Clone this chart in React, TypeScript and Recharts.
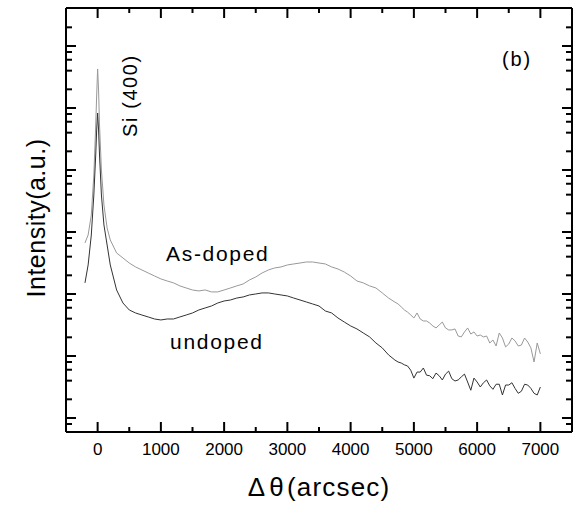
import React from "react";
import { LineChart, Line, XAxis, YAxis, Customized } from "recharts";

// x positions (arcsec)
const X_VALUES = [
  -200, -150, -100, -60, -30, -15, 0, 15, 30, 60, 100, 150, 200,
  300, 400, 500, 600, 700, 800, 900, 1000, 1100, 1200, 1300, 1400, 1500,
  1600, 1700, 1800, 1900, 2000, 2100, 2200, 2300, 2400, 2500, 2600, 2700,
  2800, 2900, 3000, 3100, 3200, 3300, 3400, 3500, 3600, 3700, 3800, 3900,
  4000, 4100, 4200, 4300, 4400, 4500, 4600,
  4700, 4750, 4800, 4850, 4900, 4950, 5000,
  5050, 5100, 5150, 5200, 5250, 5300, 5350, 5400, 5450, 5500,
  5550, 5600, 5650, 5700, 5750, 5800, 5850, 5900, 5950, 6000,
  6050, 6100, 6150, 6200, 6250, 6300, 6350, 6400, 6450, 6500,
  6550, 6600, 6650, 6700, 6750, 6800, 6850, 6900, 6950, 7000,
];

const AS_DOPED = [
  665, 895, 1880, 8300, 53200, 162000, 426000, 195000, 53200, 10000, 2725, 1160, 743,
  459, 381, 316, 273, 244, 218, 195, 175, 162, 151, 135, 125, 116,
  112, 116, 108, 108, 116, 125, 135, 145, 168, 188, 218, 244,
  263, 273, 294, 305, 316, 328, 328, 316, 305, 273, 253, 226,
  195, 162, 151, 135, 125, 104, 86,
  74, 69, 62, 55.2, 51, 46, 41,
  49.4, 39.5, 36.7, 36.7, 34, 30.5, 28.3, 31.6, 35.3, 28.3,
  26.3, 26.3, 27.3, 21, 20.3, 24.4, 28.3, 22.6, 24.4, 21,
  21.8, 20.3, 21, 16.2, 18.1, 14.5, 23.5, 19.5, 14, 15.6,
  19.5, 17.5, 14.5, 15, 19.5, 16.8, 13.5, 8.0, 16.2, 10.8,
];

const UNDOPED = [
  151, 294, 895, 3950, 17460, 44200, 83000, 44200, 17460, 3950, 1297, 617, 294,
  116, 71.6, 55.2, 49.4, 45.8, 42.6, 39.5, 38.1, 39.5, 39.5, 42.6, 45.8, 49.4,
  55.2, 59.5, 64, 71.6, 77.1, 80, 86, 89.5, 96.4, 100, 104, 104,
  100, 96.4, 92.9, 86, 80, 74.3, 69, 64, 53.2, 49.4, 41, 35.3,
  30.5, 27.3, 23.5, 20.3, 16.2, 13.5, 10.4,
  8.6, 8.0, 7.7, 7.2, 6.9, 5.9, 4.4,
  5.5, 5.5, 6.4, 4.9, 4.8, 4.3, 5.3, 4.8, 4.1, 5.1,
  5.7, 4.3, 3.95, 4.1, 4.6, 5.1, 3.8, 2.8, 4.4, 3.8,
  3.16, 3.7, 4.1, 3.3, 2.9, 3.5, 3.5, 2.35, 3.4, 3.4,
  3.7, 3.0, 2.5, 2.7, 3.5, 3.4, 3.0, 2.5, 2.35, 3.16,
];

const X_TICKS = [0, 500, 1000, 1500, 2000, 2500, 3000, 3500, 4000, 4500, 5000, 5500, 6000, 6500, 7000];
const Y_TICKS = [
  0.8, 1, 2, 4, 6, 8, 10, 20, 40, 60, 80, 100, 200, 400, 600, 800,
  1000, 2000, 4000, 6000, 8000, 10000, 20000, 40000, 60000, 80000,
  100000, 200000, 400000, 600000, 800000, 1000000, 2000000,
];

const data = X_VALUES.map((x, i) => ({ x, asDoped: AS_DOPED[i], undoped: UNDOPED[i] }));

const W = 578;
const H = 508;
const LEFT = 66;
const RIGHT = 572;
const TOP = 8;
const BOTTOM = 432;
const FONT = "'Liberation Sans', Arial, Helvetica, sans-serif";

const isDecade = (v: number) => Math.abs(Math.log10(v) - Math.round(Math.log10(v))) < 1e-9;

const BottomTick = (props: any) => {
  const { x, payload } = props;
  const major = payload.value % 1000 === 0;
  return (
    <g>
      <line x1={x} x2={x} y1={BOTTOM} y2={BOTTOM - (major ? 10 : 5)} stroke="#000" strokeWidth={2} />
      {major && (
        <text x={x} y={455} textAnchor="middle" fontSize={17} fontFamily={FONT} fill="#000">
          {payload.value}
        </text>
      )}
    </g>
  );
};

const TopTick = (props: any) => {
  const { x, payload } = props;
  const major = payload.value % 1000 === 0;
  return <line x1={x} x2={x} y1={TOP} y2={TOP + (major ? 10 : 5)} stroke="#000" strokeWidth={2} />;
};

const LeftTick = (props: any) => {
  const { y, payload } = props;
  const major = isDecade(payload.value);
  return <line x1={LEFT} x2={LEFT + (major ? 10 : 6)} y1={y} y2={y} stroke="#000" strokeWidth={2} />;
};

const RightTick = (props: any) => {
  const { y, payload } = props;
  const major = isDecade(payload.value);
  return <line x1={RIGHT} x2={RIGHT - (major ? 10 : 6)} y1={y} y2={y} stroke="#000" strokeWidth={2} />;
};

const Annotations = () => (
  <g fontFamily={FONT} fill="#000">
    <text x={166} y={261} fontSize={21} letterSpacing={1.7}>As-doped</text>
    <text x={170} y={349} fontSize={21} letterSpacing={1.7}>undoped</text>
    <text x={502} y={66} fontSize={20} letterSpacing={1.8}>(b)</text>
    <text x={137} y={137} fontSize={20} letterSpacing={1.6} transform="rotate(-90 137 137)">Si (400)</text>
    <text x={45} y={218} fontSize={25} letterSpacing={0.5} textAnchor="middle" transform="rotate(-90 45 218)">
      Intensity(a.u.)
    </text>
    <text x={319} y={496} fontSize={26} textAnchor="middle" letterSpacing={1.2}>
      <tspan>Δ</tspan>
      <tspan dx={3}>θ</tspan>
      <tspan dx={2}>(arcsec)</tspan>
    </text>
  </g>
);

export default function App() {
  return (
    <div style={{ width: W, height: H, background: "#fff" }}>
      <style>{"body{margin:0}"}</style>
      <LineChart
        width={W}
        height={H}
        data={data}
        margin={{ top: TOP - 1, right: W - RIGHT - 1, bottom: H - BOTTOM - 1, left: LEFT - 1 }}
      >
        <XAxis
          xAxisId="b"
          dataKey="x"
          type="number"
          domain={[-500, 7500]}
          allowDataOverflow
          ticks={X_TICKS}
          interval={0}
          height={1}
          tickLine={false}
          tick={<BottomTick />}
          axisLine={{ stroke: "#000", strokeWidth: 2 }}
        />
        <XAxis
          xAxisId="t"
          dataKey="x"
          type="number"
          orientation="top"
          domain={[-500, 7500]}
          allowDataOverflow
          ticks={X_TICKS}
          interval={0}
          height={1}
          tickLine={false}
          tick={<TopTick />}
          axisLine={{ stroke: "#000", strokeWidth: 2 }}
        />
        <YAxis
          yAxisId="l"
          type="number"
          scale="log"
          domain={[0.594, 4100000]}
          allowDataOverflow
          ticks={Y_TICKS}
          interval={0}
          width={1}
          tickLine={false}
          tick={<LeftTick />}
          axisLine={{ stroke: "#000", strokeWidth: 2 }}
        />
        <YAxis
          yAxisId="r"
          type="number"
          orientation="right"
          scale="log"
          domain={[0.594, 4100000]}
          allowDataOverflow
          ticks={Y_TICKS}
          interval={0}
          width={1}
          tickLine={false}
          tick={<RightTick />}
          axisLine={{ stroke: "#000", strokeWidth: 2 }}
        />
        <Line
          xAxisId="b"
          yAxisId="l"
          type="linear"
          dataKey="asDoped"
          stroke="#999999"
          strokeWidth={1}
          dot={false}
          isAnimationActive={false}
        />
        <Line
          xAxisId="b"
          yAxisId="l"
          type="linear"
          dataKey="undoped"
          stroke="#333333"
          strokeWidth={1}
          dot={false}
          isAnimationActive={false}
        />
        <Line
          xAxisId="t"
          yAxisId="r"
          type="linear"
          dataKey="undoped"
          stroke="none"
          dot={false}
          activeDot={false}
          isAnimationActive={false}
        />
        <Customized component={Annotations} />
      </LineChart>
    </div>
  );
}
